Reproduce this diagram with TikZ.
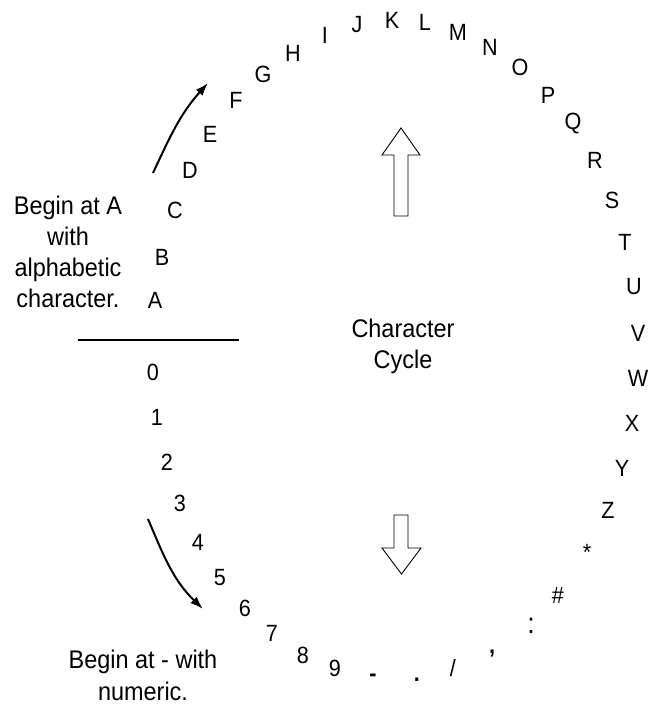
\documentclass[tikz,border=0pt]{standalone}
\usepackage{fontspec}
\setmainfont{Liberation Sans}[FakeStretch=0.92]
\usetikzlibrary{arrows.meta}
\begin{document}
\begin{tikzpicture}[x=1pt,y=1pt,
  ch/.style={font=\fontsize{23.5}{27}\selectfont, inner sep=0pt},
  lbl/.style={font=\fontsize{25.5}{31}\selectfont, align=center, inner sep=0pt},
  curvarrow/.style={line width=2pt, -{Latex[length=13pt,width=9pt]}},
  blockarrow/.style={draw, line width=0.9pt, fill=white, line join=miter},
  rule/.style={line width=2.2pt}]
\useasboundingbox (0,0) rectangle (649,-713);
% letters
\node[ch] (cA) at (155,-300) {A};
\node[ch] (cB) at (162,-257) {B};
\node[ch] (cC) at (175,-210) {C};
\node[ch] (cD) at (190,-170) {D};
\node[ch] (cE) at (210,-134) {E};
\node[ch] (cF) at (236,-100) {F};
\node[ch] (cG) at (263,-74) {G};
\node[ch] (cH) at (293,-53) {H};
\node[ch] (cI) at (325,-35) {I};
\node[ch] (cJ) at (357,-25) {J};
\node[ch] (cK) at (392,-20) {K};
\node[ch] (cL) at (425,-22) {L};
\node[ch] (cM) at (458,-32) {M};
\node[ch] (cN) at (490,-47) {N};
\node[ch] (cO) at (520,-67) {O};
\node[ch] (cP) at (548,-95) {P};
\node[ch] (cQ) at (573,-124) {Q};
\node[ch] (cR) at (595,-160) {R};
\node[ch] (cS) at (612,-200) {S};
\node[ch] (cT) at (625,-242) {T};
\node[ch] (cU) at (634,-287) {U};
\node[ch] (cV) at (638,-333) {V};
\node[ch] (cW) at (638,-378) {W};
\node[ch] (cX) at (632,-423) {X};
\node[ch] (cY) at (622,-468) {Y};
\node[ch] (cZ) at (608,-510) {Z};
\node[ch] (cstar) at (587,-552) {*};
\node[ch] (chash) at (558,-595) {\#};
\node[ch, font=\fontsize{29}{30}\selectfont] (ccolon) at (531,-626) {:};
\node[ch] (ccomma) at (492,-654) {\textbf{,}};
\node[ch] (cslash) at (453,-668) {/};
\node[ch] (cdot) at (417,-680) {\textbf{.}};
\node[ch] (cdash) at (373,-678) {\textbf{-}};
% digits
\node[ch] (d9) at (335,-668) {9};
\node[ch] (d8) at (303,-655) {8};
\node[ch] (d7) at (272,-633) {7};
\node[ch] (d6) at (245,-608) {6};
\node[ch] (d5) at (220,-578) {5};
\node[ch] (d4) at (198,-542) {4};
\node[ch] (d3) at (180,-503) {3};
\node[ch] (d2) at (167,-462) {2};
\node[ch] (d1) at (157,-417) {1};
\node[ch] (d0) at (153,-372) {0};
% labels
\node[lbl] (beginA) at (68,-252) {Begin at A\\with\\alphabetic\\character.};
\node[lbl, font=\fontsize{25.5}{32}\selectfont] (beginN) at (143,-675) {Begin at - with\\numeric.};
\node[lbl] (cycle) at (403,-346) {Character\\Cycle};
% rule
\coordinate (hl1) at (78,-340);
\coordinate (hl2) at (239,-340);
\draw[rule] (hl1) -- (hl2);
% curved arrows
\coordinate (sA) at (153,-173);
\coordinate (eA) at (208,-83);
\draw[curvarrow] (sA) to[out=65,in=228] (eA);
\coordinate (sN) at (148,-519);
\coordinate (eN) at (203,-609);
\draw[curvarrow] (sN) to[out=-67,in=136] (eN);
% block arrows
\draw[blockarrow] (394,-216) -- (394,-155) -- (382,-155) -- (401,-128) -- (420,-155) -- (408,-155) -- (408,-216) -- cycle;
\draw[blockarrow] (394,-515) -- (394,-548) -- (382,-548) -- (401.5,-574) -- (421,-548) -- (408,-548) -- (408,-515) -- cycle;
\end{tikzpicture}
\end{document}
